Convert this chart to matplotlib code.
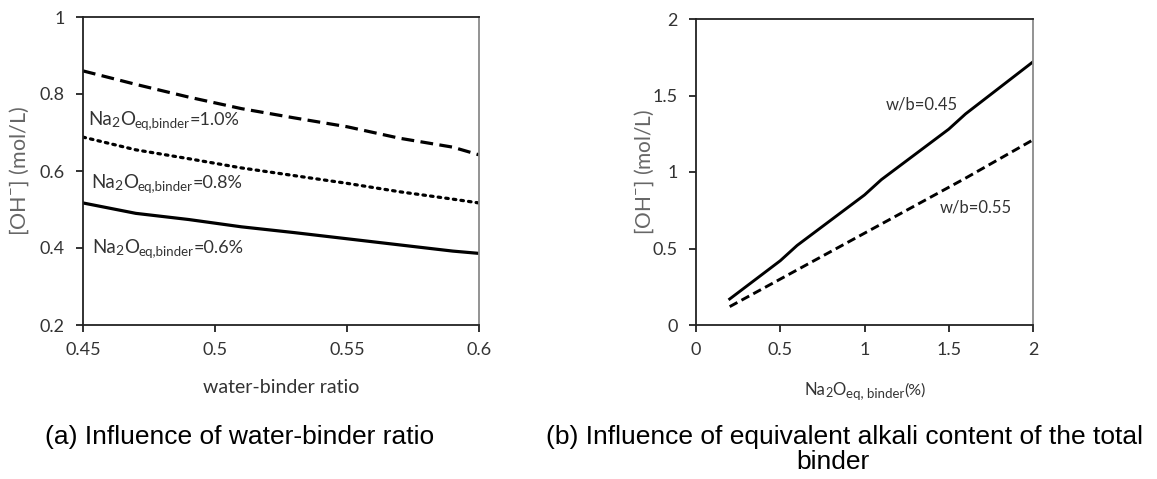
import matplotlib
matplotlib.use("Agg")
import matplotlib.pyplot as plt
from matplotlib.transforms import ScaledTranslation

# (a) water-binder ratio
wb = [0.45, 0.47, 0.49, 0.51, 0.53, 0.55, 0.57, 0.59, 0.60]
oh_10 = [0.86, 0.825, 0.792, 0.762, 0.738, 0.715, 0.685, 0.662, 0.642]
oh_08 = [0.688, 0.655, 0.632, 0.608, 0.588, 0.568, 0.546, 0.527, 0.517]
oh_06 = [0.517, 0.490, 0.474, 0.455, 0.440, 0.424, 0.408, 0.392, 0.386]

# (b) equivalent alkali content
na2o = [0.2, 0.5, 0.6, 1.0, 1.1, 1.5, 1.6, 2.0]
oh_045 = [0.17, 0.42, 0.52, 0.85, 0.95, 1.28, 1.38, 1.72]
oh_055 = [0.12, 0.30, 0.36, 0.60, 0.66, 0.90, 0.96, 1.21]

plt.rcParams['font.family'] = ['Lato', 'DejaVu Sans']
plt.rcParams['mathtext.fontset'] = 'custom'
plt.rcParams['mathtext.rm'] = 'Lato'

W, H = 1157, 479
fig = plt.figure(figsize=(W / 100, H / 100), dpi=100)
ax1 = fig.add_axes([83 / W, 1 - 325 / H, 396 / W, 308 / H])
ax2 = fig.add_axes([696 / W, 1 - 325 / H, 337 / W, 306 / H])
renderer = fig.canvas.get_renderer()

tick_col = '#333333'


def rich_text(x, y, pieces, transform, ha='left', color=tick_col):
    """pieces: (text, fontsize, baseline shift in points); y is the baseline"""
    texts = []
    off = 0.0
    for s, size, dy in pieces:
        t = fig.text(x, y, s, fontsize=size, color=color, va='baseline',
                     ha='left', transform=transform)
        w = t.get_window_extent(renderer).width * 72 / fig.dpi
        texts.append((t, off, dy))
        off += w
    shift = -off / 2 if ha == 'center' else 0.0
    for t, o, dy in texts:
        t.set_transform(transform + ScaledTranslation((o + shift) / 72, dy / 72,
                                                      fig.dpi_scale_trans))


def na_label(value):
    return [('Na', 13.5, 0), ('2', 10, -1.5), ('O', 13.5, 0),
            ('eq,binder', 9.5, -2.5), ('=' + value, 13, 0)]


for ax in (ax1, ax2):
    for s in ('left', 'bottom', 'top'):
        ax.spines[s].set_color('#222222')
        ax.spines[s].set_linewidth(1.3)
    ax.spines['right'].set_color('#8a8a8a')
    ax.spines['right'].set_linewidth(1.3)
    ax.tick_params(direction='out', length=5, width=1.3, color='#222222',
                   labelsize=13, labelcolor=tick_col)
    ax.tick_params(axis='x', pad=7)
    ax.tick_params(axis='y', pad=8)

# ----- panel (a)
ax1.plot(wb, oh_10, color='black', lw=2.3, linestyle=(0, (4, 2)))
ax1.plot(wb, oh_08, color='black', lw=2.3, linestyle=(0, (0.8, 1.6)),
         dash_capstyle='round')
ax1.plot(wb, oh_06, color='black', lw=2.3)
ax1.set_xlim(0.45, 0.6)
ax1.set_ylim(0.2, 1.0)
ax1.set_xticks([0.45, 0.5, 0.55, 0.6])
ax1.set_xticklabels(['0.45', '0.5', '0.55', '0.6'])
ax1.set_yticks([0.2, 0.4, 0.6, 0.8, 1.0])
ax1.set_yticklabels(['0.2', '0.4', '0.6', '0.8', '1'])
ax1.set_ylabel('[OH$^{-}$] (mol/L)', fontsize=15.5, color='#666666')
ax1.yaxis.set_label_coords(-(83 - 31) / 396, 0.5)
fig.text(281 / W, 1 - 393 / H, 'water-binder ratio', fontsize=14,
         color=tick_col, ha='center', va='baseline')

rich_text(0.4519, 0.7195, na_label('1.0%'), ax1.transData)
rich_text(0.4530, 0.556, na_label('0.8%'), ax1.transData)
rich_text(0.4534, 0.387, na_label('0.6%'), ax1.transData)

# ----- panel (b)
ax2.plot(na2o, oh_045, color='black', lw=2.1)
ax2.plot(na2o, oh_055, color='black', lw=2.1, linestyle=(0, (3, 1.6)))
ax2.set_xlim(0, 2)
ax2.set_ylim(0, 2)
ax2.set_xticks([0, 0.5, 1, 1.5, 2])
ax2.set_xticklabels(['0', '0.5', '1', '1.5', '2'])
ax2.set_yticks([0, 0.5, 1, 1.5, 2])
ax2.set_yticklabels(['0', '0.5', '1', '1.5', '2'])
ax2.set_ylabel('[OH$^{-}$] (mol/L)', fontsize=15, color='#666666')
ax2.yaxis.set_label_coords(-(696 - 656) / 337, 0.5)
rich_text(865 / W, 1 - 395 / H,
          [('Na', 12, 0), ('2', 9, -1.5), ('O', 12, 0),
           ('eq, binder', 9.5, -2.5), ('(%)', 11.5, 0)],
          fig.transFigure, ha='center')
ax2.text(1.34, 1.44, 'w/b=0.45', fontsize=12, color=tick_col,
         ha='center', va='center')
ax2.text(1.66, 0.77, 'w/b=0.55', fontsize=12, color=tick_col,
         ha='center', va='center')

# captions
cap_kw = dict(family=['Liberation Sans', 'DejaVu Sans'], fontsize=19,
              color='black', va='baseline')
fig.text(45 / W, 1 - 444 / H, '(a) Influence of water-binder ratio', ha='left', **cap_kw)
fig.text(546 / W, 1 - 444 / H,
         '(b) Influence of equivalent alkali content of the total', ha='left', **cap_kw)
fig.text(833 / W, 1 - 469 / H, 'binder', ha='center', **cap_kw)

fig.savefig('out.png', dpi=100)
